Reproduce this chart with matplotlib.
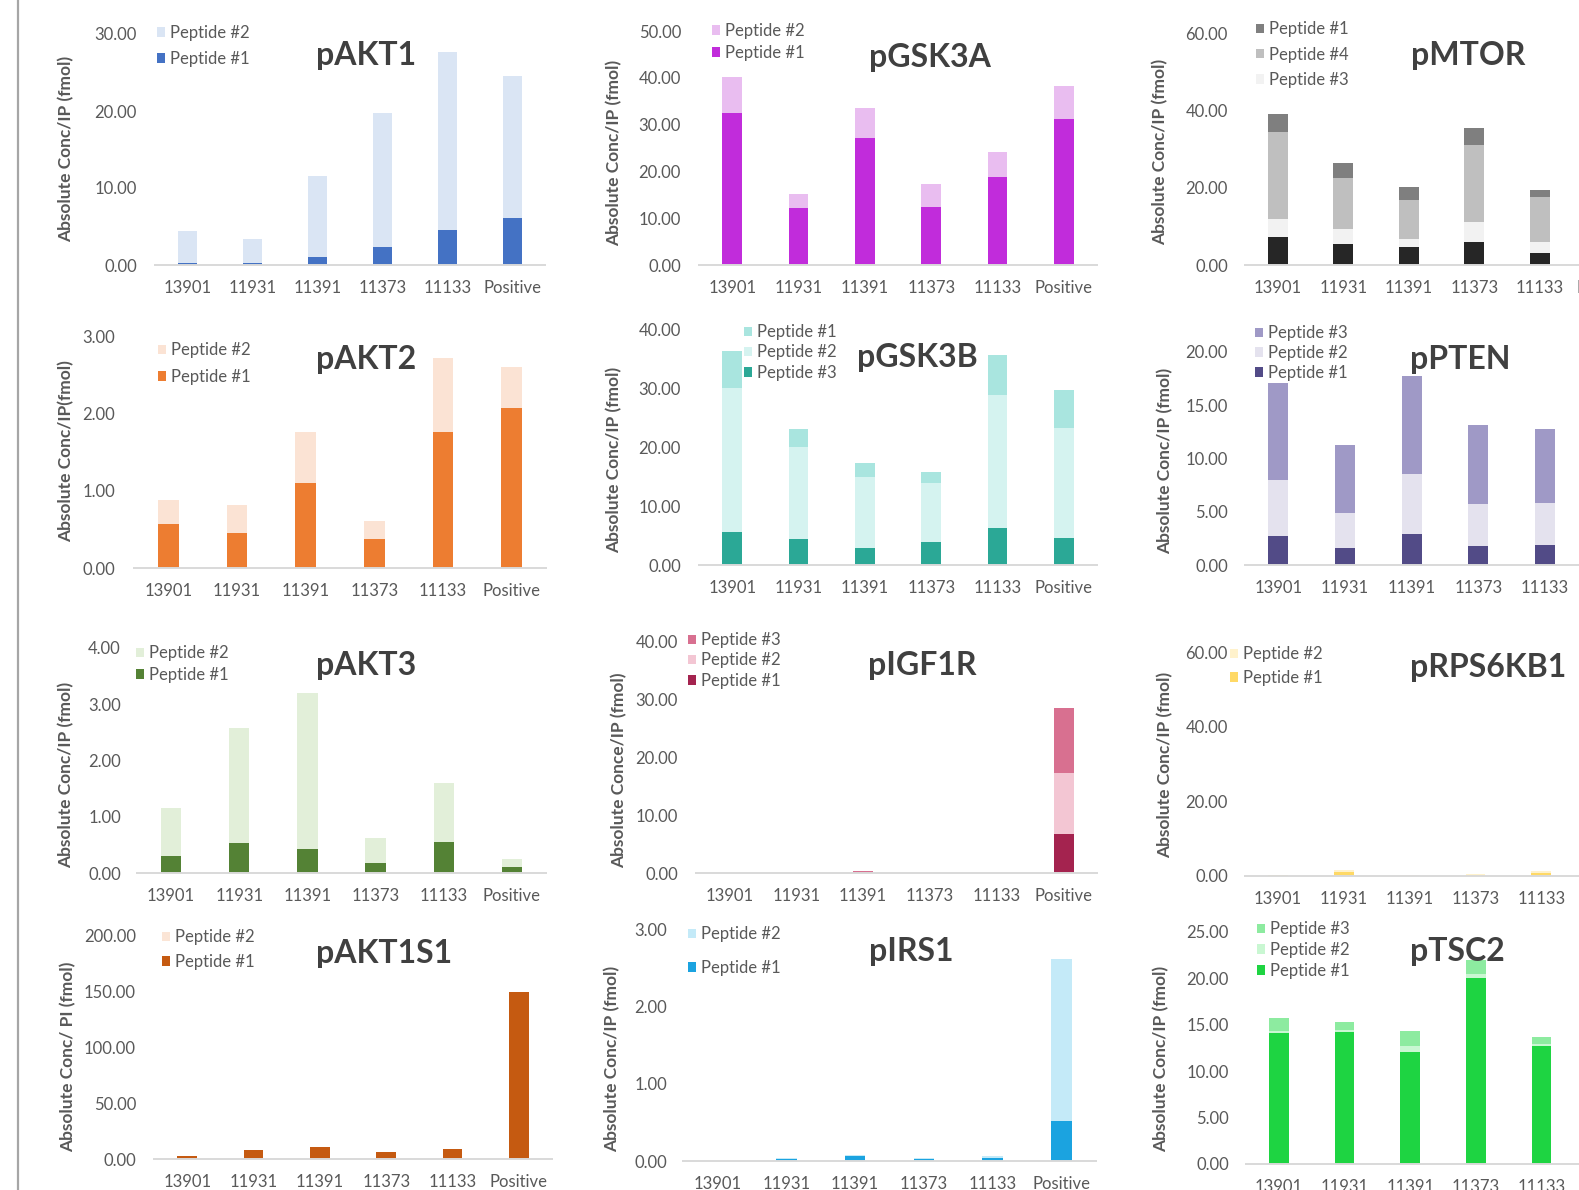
import numpy as np
import matplotlib
matplotlib.use("Agg")
import matplotlib.pyplot as plt
from matplotlib.lines import Line2D

# Figure size in pixels (dpi 100)
W, H = 1579, 1190
plt.rcParams['font.family'] = ['Lato', 'DejaVu Sans']

TXT = '#595959'
TITLE = '#404040'

# =========================
# Data
# =========================
samples = ["13901", "11931", "11391", "11373", "11133", "Positive"]
nan = np.nan

akt1_pep1 = [0.2, 0.2, 1.1, 2.3, 4.6, 6.1]
akt1_pep2 = [4.2, 3.2, 10.4, 17.4, 23.1, 18.4]

gsk3a_pep1 = [32.5, 12.2, 27.1, 12.5, 18.9, 31.1]
gsk3a_pep2 = [7.7, 3.0, 6.4, 4.9, 5.3, 7.2]

# right column is cut off at "Positive"
mtor_pep2 = [7.2, 5.5, 4.6, 6.0, 3.2, nan]
mtor_pep3 = [4.7, 3.7, 2.2, 5.2, 2.7, nan]
mtor_pep4 = [22.5, 13.2, 10.0, 19.9, 11.6, nan]
mtor_pep1 = [4.6, 3.9, 3.3, 4.3, 1.9, nan]

akt2_pep1 = [0.57, 0.45, 1.10, 0.37, 1.76, 2.07]
akt2_pep2 = [0.31, 0.37, 0.66, 0.24, 0.96, 0.53]

gsk3b_pep3 = [5.6, 4.4, 2.9, 3.9, 6.3, 4.6]
gsk3b_pep2 = [24.5, 15.7, 12.1, 10.1, 22.7, 18.7]
gsk3b_pep1 = [6.4, 3.1, 2.4, 1.8, 6.8, 6.5]

pten_pep1 = [2.7, 1.6, 2.9, 1.8, 1.9, nan]
pten_pep2 = [5.3, 3.3, 5.6, 3.9, 3.9, nan]
pten_pep3 = [9.1, 6.4, 9.2, 7.4, 7.0, nan]

akt3_pep1 = [0.30, 0.53, 0.43, 0.18, 0.55, 0.11]
akt3_pep2 = [0.85, 2.04, 2.77, 0.44, 1.05, 0.14]

igf1r_pep1 = [0.0, 0.0, 0.1, 0.0, 0.0, 6.7]
igf1r_pep2 = [0.0, 0.0, 0.1, 0.0, 0.0, 10.5]
igf1r_pep3 = [0.0, 0.0, 0.2, 0.0, 0.0, 11.2]

rps6kb1_pep1 = [0.2, 1.0, 0.1, 0.3, 0.8, nan]
rps6kb1_pep2 = [0.2, 0.6, 0.1, 0.3, 0.5, nan]

akt1s1_pep1 = [2.7, 8.1, 10.8, 6.3, 8.7, 149.6]
akt1s1_pep2 = [0.0, 0.0, 0.0, 0.0, 0.0, 0.0]

irs1_pep1 = [0.0, 0.03, 0.06, 0.03, 0.04, 0.52]
irs1_pep2 = [0.0, 0.01, 0.02, 0.01, 0.03, 2.09]

tsc2_pep1 = [14.1, 14.2, 12.1, 20.0, 12.7, nan]
tsc2_pep2 = [0.2, 0.2, 0.6, 0.5, 0.2, nan]
tsc2_pep3 = [1.4, 0.9, 1.6, 1.5, 0.8, nan]

# =========================
# Panels: series bottom -> top, legend order, layout in pixels
# =========================
panels = [
    dict(title="pAKT1", ylabel="Absolute Conc/IP (fmol)",
         series=[("Peptide #1", akt1_pep1, "#4472C4"), ("Peptide #2", akt1_pep2, "#DAE5F4")],
         legend=["Peptide #2", "Peptide #1"],
         box=(155, 545, 34, 265), ymax=30, step=10, tick_right=137,
         title_xy=(366, 55), leg_x=157, leg_rows=(33, 59), ylab_xy=(66, 149)),
    dict(title="pGSK3A", ylabel="Absolute Conc/IP (fmol)",
         series=[("Peptide #1", gsk3a_pep1, "#C12CDB"), ("Peptide #2", gsk3a_pep2, "#E9BDF0")],
         legend=["Peptide #2", "Peptide #1"],
         box=(699, 1097, 31, 265), ymax=50, step=10, tick_right=681,
         title_xy=(930, 57), leg_x=712, leg_rows=(31, 53), ylab_xy=(614, 153)),
    dict(title="pMTOR", ylabel="Absolute Conc/IP (fmol)",
         series=[("Peptide #2", mtor_pep2, "#262626"), ("Peptide #3", mtor_pep3, "#F2F2F2"),
                 ("Peptide #4", mtor_pep4, "#BFBFBF"), ("Peptide #1", mtor_pep1, "#7F7F7F")],
         legend=["Peptide #1", "Peptide #4", "Peptide #3"],
         box=(1245, 1638, 33, 265), ymax=60, step=20, tick_right=1228,
         title_xy=(1468, 55), leg_x=1256, leg_rows=(29, 54, 80), ylab_xy=(1160, 152)),
    dict(title="pAKT2", ylabel="Absolute Conc/IP(fmol)",
         series=[("Peptide #1", akt2_pep1, "#ED7D31"), ("Peptide #2", akt2_pep2, "#FBE3D4")],
         legend=["Peptide #2", "Peptide #1"],
         box=(134, 546, 336, 568), ymax=3, step=1, tick_right=115,
         title_xy=(366, 360), leg_x=158, leg_rows=(350, 377), ylab_xy=(66, 451)),
    dict(title="pGSK3B", ylabel="Absolute Conc/IP (fmol)",
         series=[("Peptide #3", gsk3b_pep3, "#2BA896"), ("Peptide #2", gsk3b_pep2, "#D5F3F0"),
                 ("Peptide #1", gsk3b_pep1, "#A9E5DF")],
         legend=["Peptide #1", "Peptide #2", "Peptide #3"],
         box=(699, 1097, 330, 565), ymax=40, step=10, tick_right=681,
         title_xy=(917, 357), leg_x=744, leg_rows=(332, 352, 373), ylab_xy=(614, 460)),
    dict(title="pPTEN", ylabel="Absolute Conc/IP (fmol)",
         series=[("Peptide #1", pten_pep1, "#524B87"), ("Peptide #2", pten_pep2, "#E4E2EE"),
                 ("Peptide #3", pten_pep3, "#9F99C6")],
         legend=["Peptide #3", "Peptide #2", "Peptide #1"],
         box=(1245, 1645, 352, 565), ymax=20, step=5, tick_right=1228,
         title_xy=(1460, 359), leg_x=1255, leg_rows=(333, 353, 373), ylab_xy=(1165, 461)),
    dict(title="pAKT3", ylabel="Absolute Conc/IP (fmol)",
         series=[("Peptide #1", akt3_pep1, "#548235"), ("Peptide #2", akt3_pep2, "#E2EFD9")],
         legend=["Peptide #2", "Peptide #1"],
         box=(137, 546, 648, 873), ymax=4, step=1, tick_right=121,
         title_xy=(366, 665), leg_x=136, leg_rows=(653, 675), ylab_xy=(66, 775)),
    dict(title="pIGF1R", ylabel="Absolute Conce/IP (fmol)",
         series=[("Peptide #1", igf1r_pep1, "#A4234F"), ("Peptide #2", igf1r_pep2, "#F3C6D3"),
                 ("Peptide #3", igf1r_pep3, "#D87090")],
         legend=["Peptide #3", "Peptide #2", "Peptide #1"],
         box=(696, 1097, 641, 873), ymax=40, step=10, tick_right=678,
         title_xy=(922, 665), leg_x=688, leg_rows=(640, 660, 681), ylab_xy=(619, 770)),
    dict(title="pRPS6KB1", ylabel="Absolute Conc/IP (fmol)",
         series=[("Peptide #1", rps6kb1_pep1, "#FFD966"), ("Peptide #2", rps6kb1_pep2, "#FFF2CC")],
         legend=["Peptide #2", "Peptide #1"],
         box=(1245, 1640, 652, 876), ymax=60, step=20, tick_right=1228,
         title_xy=(1488, 667), leg_x=1230, leg_rows=(654, 678), ylab_xy=(1165, 765)),
    dict(title="pAKT1S1", ylabel="Absolute Conc/ PI (fmol)",
         series=[("Peptide #1", akt1s1_pep1, "#C55A11"), ("Peptide #2", akt1s1_pep2, "#FBE5D6")],
         legend=["Peptide #2", "Peptide #1"],
         box=(154, 552, 936, 1159), ymax=200, step=50, tick_right=136,
         title_xy=(384, 954), leg_x=162, leg_rows=(937, 962), ylab_xy=(68, 1057)),
    dict(title="pIRS1", ylabel="Absolute Conc/IP (fmol)",
         series=[("Peptide #1", irs1_pep1, "#1BA3E0"), ("Peptide #2", irs1_pep2, "#C4EAF8")],
         legend=["Peptide #2", "Peptide #1"],
         box=(683, 1096, 929, 1161), ymax=3, step=1, tick_right=667,
         title_xy=(911, 952), leg_x=688, leg_rows=(934, 968), ylab_xy=(612, 1059)),
    dict(title="pTSC2", ylabel="Absolute Conc/IP (fmol)",
         series=[("Peptide #1", tsc2_pep1, "#1ED442"), ("Peptide #2", tsc2_pep2, "#C9F7D2"),
                 ("Peptide #3", tsc2_pep3, "#8DEBA0")],
         legend=["Peptide #3", "Peptide #2", "Peptide #1"],
         box=(1246, 1640, 932, 1164), ymax=25, step=5, tick_right=1229,
         title_xy=(1457, 952), leg_x=1257, leg_rows=(929, 950, 971), ylab_xy=(1161, 1059)),
]


def fx(x):
    return x / W


def fy(y):
    return 1 - y / H


fig = plt.figure(figsize=(W / 100, H / 100), dpi=100)
fig.patch.set_facecolor("white")

# thin grey rule on the left edge of the screenshot
fig.add_artist(Line2D([fx(18), fx(18)], [0, 1], color="#A6A6A6", lw=1.6))

x = np.arange(len(samples))
FS = 12
FS_PX = FS * 100 / 72

for p in panels:
    x0, x1, ytop, ybase = p["box"]
    ax = fig.add_axes([fx(x0), fy(ybase), (x1 - x0) / W, (ybase - ytop) / H])
    ax.patch.set_alpha(0)

    bottom = np.zeros(len(samples))
    handles = {}
    for label, vals, color in p["series"]:
        v = np.array(vals, dtype=float)
        handles[label] = ax.bar(x, v, 0.3, bottom=bottom, color=color, label=label)
        bottom = bottom + v

    ax.set_xlim(-0.5, 5.5)
    ax.set_ylim(0, p["ymax"])
    yt = np.arange(0, p["ymax"] + p["step"] / 2, p["step"])
    ax.set_yticks(yt)
    ax.set_yticklabels([f"{t:.2f}" for t in yt])
    ax.set_xticks(x)
    ax.set_xticklabels(samples)
    ax.tick_params(length=0, labelsize=FS, labelcolor=TXT)
    ax.tick_params(axis="y", pad=(x0 - p["tick_right"]) * 0.72)
    ax.tick_params(axis="x", pad=11)
    for s in ["top", "right", "left"]:
        ax.spines[s].set_visible(False)
    ax.spines["bottom"].set_color("#D9D9D9")
    ax.spines["bottom"].set_linewidth(1.4)

    rows = p["leg_rows"]
    dy = (rows[-1] - rows[0]) / (len(rows) - 1)
    ls = max(dy / FS_PX - 0.98, 0.02)
    ax.legend([handles[l] for l in p["legend"]], p["legend"],
              loc="center left",
              bbox_to_anchor=(fx(p["leg_x"]), fy((rows[0] + rows[-1]) / 2)),
              bbox_transform=fig.transFigure, frameon=False,
              borderpad=0, borderaxespad=0, handlelength=0.5, handleheight=0.5,
              handletextpad=0.3, labelspacing=ls, fontsize=FS, labelcolor=TXT)

    tx, ty = p["title_xy"]
    fig.text(fx(tx), fy(ty), p["title"], fontsize=23, fontweight="bold",
             color=TITLE, ha="center", va="center")
    lx, ly = p["ylab_xy"]
    fig.text(fx(lx), fy(ly), p["ylabel"], fontsize=12.5, fontweight="bold",
             color=TXT, ha="center", va="center", rotation=90)

fig.savefig("out.png", dpi=100)
